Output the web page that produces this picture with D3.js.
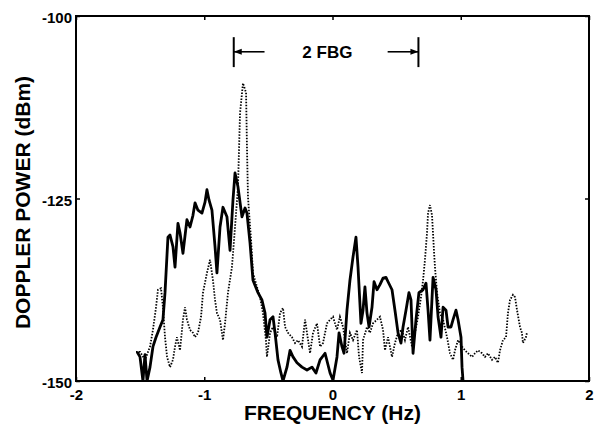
<!DOCTYPE html>
<html>
<head>
<meta charset="utf-8">
<script src="https://cdn.jsdelivr.net/npm/d3@7"></script>
<style>
  body { margin: 0; background: #fff; }
  svg text { font-family: "Liberation Sans", Arial, sans-serif; fill: #000; }
</style>
</head>
<body>
<script>
// axis ticks
var xTicks = [-2, -1, 0, 1, 2];
var yTicks = [-150, -125, -100];

// solid trace: frequency (Hz), power (dBm)
var solidFreq = [-1.524,-1.501,-1.478,-1.462,-1.446,-1.423,-1.400,-1.376,-1.345,-1.322,-1.306,-1.283,-1.267,-1.244,-1.228,-1.205,-1.189,-1.166,-1.135,-1.111,-1.088,-1.072,-1.049,-1.018,-0.994,-0.979,-0.963,-0.940,-0.916,-0.901,-0.877,-0.854,-0.823,-0.799,-0.776,-0.760,-0.737,-0.706,-0.682,-0.667,-0.643,-0.620,-0.581,-0.550,-0.526,-0.511,-0.487,-0.464,-0.448,-0.425,-0.402,-0.386,-0.355,-0.331,-0.308,-0.277,-0.238,-0.199,-0.160,-0.129,-0.097,-0.058,-0.019,0.004,0.035,0.051,0.074,0.090,0.113,0.136,0.160,0.183,0.199,0.222,0.238,0.253,0.269,0.285,0.308,0.324,0.347,0.370,0.394,0.417,0.433,0.464,0.487,0.511,0.534,0.550,0.573,0.596,0.612,0.628,0.651,0.674,0.706,0.729,0.745,0.760,0.784,0.807,0.823,0.846,0.862,0.885,0.901,0.924,0.940,0.963,0.979,1.002,1.010,1.018];
var solidPower = [-146.0,-146.7,-150,-146.4,-150,-148.1,-145.3,-144.0,-142.6,-141.6,-137.9,-130.3,-130.0,-131.6,-134.4,-128.4,-129.7,-132.5,-127.9,-128.9,-127.3,-125.6,-126.6,-127.0,-125.5,-123.8,-125.2,-126.6,-131.6,-135.2,-128.9,-126.2,-127.5,-132.1,-125.2,-121.5,-123.4,-127.5,-126.3,-127.0,-131.1,-136.2,-137.9,-138.9,-140.7,-144.0,-141.6,-141.2,-143.4,-147.1,-148.9,-150,-148.1,-145.8,-146.7,-147.5,-148.1,-148.5,-148.1,-148.9,-147.1,-146.2,-148.9,-149.9,-146.7,-143.4,-145.3,-146.2,-140.3,-136.2,-133.0,-130.3,-134.4,-142.1,-140.3,-137.1,-140.7,-142.6,-139.9,-136.4,-137.5,-136.8,-135.9,-135.8,-136.4,-137.5,-140.3,-143.4,-144.8,-142.6,-140.3,-137.9,-138.9,-146.2,-141.6,-137.9,-137.5,-136.6,-140.3,-144.4,-135.8,-137.5,-141.2,-144.0,-139.9,-140.3,-142.6,-142.6,-141.6,-140.3,-141.6,-144.0,-148.1,-150];

// dotted trace
var dottedFreq = [-1.532,-1.501,-1.462,-1.423,-1.400,-1.376,-1.361,-1.337,-1.322,-1.306,-1.290,-1.267,-1.244,-1.228,-1.213,-1.189,-1.166,-1.150,-1.135,-1.111,-1.088,-1.072,-1.049,-1.025,-1.010,-0.979,-0.955,-0.932,-0.916,-0.901,-0.877,-0.854,-0.838,-0.815,-0.784,-0.760,-0.737,-0.721,-0.698,-0.674,-0.667,-0.659,-0.635,-0.620,-0.589,-0.565,-0.542,-0.519,-0.511,-0.487,-0.464,-0.433,-0.409,-0.386,-0.370,-0.347,-0.316,-0.292,-0.269,-0.238,-0.214,-0.199,-0.175,-0.152,-0.121,-0.097,-0.074,-0.043,-0.019,0.004,0.035,0.058,0.082,0.113,0.136,0.160,0.191,0.207,0.230,0.238,0.269,0.292,0.316,0.347,0.370,0.394,0.409,0.433,0.464,0.487,0.511,0.542,0.565,0.589,0.620,0.643,0.667,0.690,0.706,0.721,0.737,0.745,0.760,0.776,0.791,0.799,0.815,0.838,0.862,0.893,0.916,0.940,0.955,0.979,1.010,1.033,1.057,1.088,1.111,1.135,1.166,1.189,1.212,1.244,1.267,1.290,1.306,1.329,1.353,1.368,1.384,1.407,1.423,1.439,1.462,1.477,1.485,1.508,1.516];
var dottedPower = [-146.0,-146.0,-147.1,-145.3,-143.0,-139.9,-137.5,-137.3,-139.9,-144.0,-146.7,-148.1,-147.1,-145.3,-144.0,-145.8,-141.6,-139.9,-141.6,-143.0,-143.4,-144.0,-143.4,-141.2,-137.9,-135.2,-133.4,-136.2,-138.9,-140.7,-141.6,-144.4,-142.1,-137.9,-134.4,-128.9,-123.4,-113.3,-109.2,-110.5,-117.9,-124.8,-130.7,-135.2,-137.1,-138.5,-140.7,-144.4,-146.7,-143.4,-142.6,-144.0,-140.7,-140.0,-142.6,-143.4,-144.0,-144.8,-144.4,-145.3,-141.6,-143.4,-146.2,-143.4,-142.1,-145.3,-144.8,-142.1,-141.6,-141.2,-143.0,-141.2,-142.6,-146.2,-143.4,-144.4,-143.0,-146.7,-148.9,-144.4,-142.6,-143.4,-142.1,-141.6,-141.2,-143.0,-145.8,-144.0,-146.7,-144.8,-143.4,-143.0,-144.4,-142.6,-145.3,-143.4,-141.2,-138.5,-136.2,-133.4,-129.7,-127.0,-125.9,-127.3,-132.1,-134.4,-137.9,-140.7,-141.6,-144.0,-146.2,-147.1,-145.8,-144.4,-145.3,-145.8,-146.2,-146.7,-146.2,-145.8,-146.2,-146.7,-146.2,-147.1,-146.7,-147.5,-145.8,-144.4,-144.0,-140.7,-138.9,-138.2,-138.5,-140.3,-142.6,-143.4,-144.8,-144.0,-143.4];

// "2 FBG" marker (Hz, dBm)
var fbgLeft = -0.77, fbgRight = 0.67;
var fbgTop = -102.9, fbgBottom = -107.0, fbgArrowY = -104.9;
var fbgArrowLen = 0.24;

var W = 595, H = 430;
var margin = {top: 16, right: 6, bottom: 49, left: 76},
    width = W - margin.left - margin.right,
    height = H - margin.top - margin.bottom;

var svg = d3.select("body").append("svg")
    .attr("width", W)
    .attr("height", H);

var g = svg.append("g")
    .attr("transform", "translate(" + margin.left + "," + margin.top + ")");

var x = d3.scaleLinear().domain([-2, 2]).range([0, width]);
var y = d3.scaleLinear().domain([-150, -100]).range([height, 0]);

svg.append("defs").append("clipPath").attr("id", "clip")
  .append("rect").attr("width", width).attr("height", height);

var solid = solidFreq.map(function(f, i) { return {f: f, p: solidPower[i]}; });
var dotted = dottedFreq.map(function(f, i) { return {f: f, p: dottedPower[i]}; });

var line = d3.line()
    .x(function(d) { return x(d.f); })
    .y(function(d) { return y(d.p); });

var plot = g.append("g").attr("clip-path", "url(#clip)");

plot.append("path")
    .datum(dotted)
    .attr("fill", "none")
    .attr("stroke", "#000")
    .attr("stroke-width", 1.8)
    .attr("stroke-dasharray", "1.5,1.5")
    .attr("d", line);

plot.append("path")
    .datum(solid)
    .attr("fill", "none")
    .attr("stroke", "#000")
    .attr("stroke-width", 2.8)
    .attr("stroke-linejoin", "round")
    .attr("d", line);

// axes (hyphen minus like the original)
var fmt = function(d) { return String(d); };
var tickFont = function(sel) {
  sel.selectAll("text").style("font-size", "15px").style("font-weight", "bold")
     .style("font-family", "'Liberation Sans', Arial, sans-serif");
  sel.select(".domain").remove();
  sel.selectAll("line").attr("stroke-width", 1.5);
};

g.append("g")
    .attr("transform", "translate(0," + height + ")")
    .call(d3.axisBottom(x).tickValues(xTicks).tickSize(-4).tickPadding(8).tickFormat(fmt))
    .call(tickFont);

g.append("g")
    .call(d3.axisLeft(y).tickValues(yTicks).tickSize(-4).tickPadding(4).tickFormat(fmt))
    .call(tickFont)
    .selectAll("text").attr("dy", "0.45em").attr("y", 0);

g.append("g")
    .call(d3.axisTop(x).tickValues(xTicks).tickSize(-4).tickFormat(""))
    .call(tickFont);

g.append("g")
    .attr("transform", "translate(" + width + ",0)")
    .call(d3.axisRight(y).tickValues(yTicks).tickSize(-4).tickFormat(""))
    .call(tickFont);

// frame
g.append("rect")
    .attr("width", width)
    .attr("height", height)
    .attr("fill", "none")
    .attr("stroke", "#000")
    .attr("stroke-width", 2);

// axis titles
svg.append("text")
    .attr("x", margin.left + x(0))
    .attr("y", 420)
    .attr("text-anchor", "middle")
    .style("font-size", "21px")
    .style("font-weight", "bold")
    .text("FREQUENCY (Hz)");

svg.append("text")
    .attr("transform", "translate(30," + (margin.top + height / 2 + 4) + ") rotate(-90)")
    .attr("text-anchor", "middle")
    .style("font-size", "21px")
    .style("font-weight", "bold")
    .text("DOPPLER POWER (dBm)");

// 2 FBG marker
var ann = g.append("g");
[fbgLeft, fbgRight].forEach(function(f) {
  ann.append("line")
      .attr("x1", x(f)).attr("x2", x(f))
      .attr("y1", y(fbgTop)).attr("y2", y(fbgBottom))
      .attr("stroke", "#000").attr("stroke-width", 2);
});
ann.append("line")
    .attr("x1", x(fbgLeft)).attr("x2", x(fbgLeft + fbgArrowLen))
    .attr("y1", y(fbgArrowY)).attr("y2", y(fbgArrowY))
    .attr("stroke", "#000").attr("stroke-width", 1.6);
ann.append("line")
    .attr("x1", x(fbgRight - fbgArrowLen)).attr("x2", x(fbgRight))
    .attr("y1", y(fbgArrowY)).attr("y2", y(fbgArrowY))
    .attr("stroke", "#000").attr("stroke-width", 1.6);
// arrow heads
ann.append("path")
    .attr("d", "M" + x(fbgLeft) + "," + y(fbgArrowY) + "l8,-3l0,6z")
    .attr("fill", "#000");
ann.append("path")
    .attr("d", "M" + x(fbgRight) + "," + y(fbgArrowY) + "l-8,-3l0,6z")
    .attr("fill", "#000");
ann.append("text")
    .attr("x", x((fbgLeft + fbgRight) / 2 + 0.01))
    .attr("y", y(fbgArrowY))
    .attr("dy", "0.35em")
    .attr("text-anchor", "middle")
    .style("font-size", "17px")
    .style("font-weight", "bold")
    .text("2 FBG");
</script>
</body>
</html>
